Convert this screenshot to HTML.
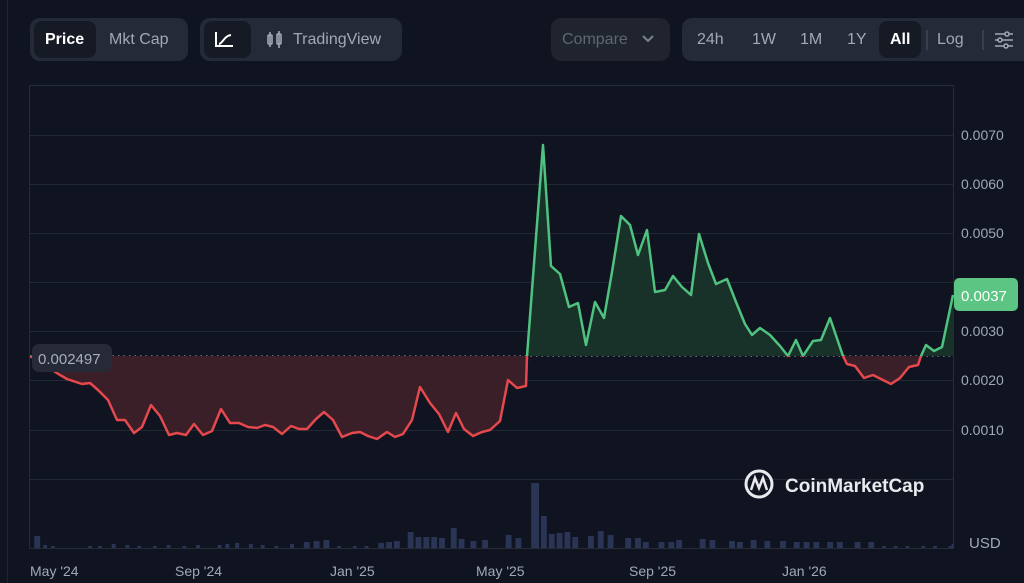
<!DOCTYPE html>
<html><head><style>
body{margin:0;width:1024px;height:583px;background:#0f1420;overflow:hidden;font-family:"Liberation Sans",sans-serif;}
.g{position:absolute;background:#252a38;border-radius:10px;height:43px;top:18px;}
.b{position:absolute;top:0;height:43px;line-height:43px;font-size:16px;color:#a3a8b6;}
.act{position:absolute;top:3px;height:37px;background:#161a25;border-radius:8px;}
</style></head><body>
<div style="position:absolute;left:7px;top:0;width:1px;height:583px;background:#1f2430"></div>
<div class="g" style="left:30px;width:158px"><div class="act" style="left:4px;width:62px"></div><div class="b" style="left:15px;color:#fff;font-weight:bold">Price</div><div class="b" style="left:79px">Mkt Cap</div></div>
<div class="g" style="left:200px;width:202px"><div class="act" style="left:4px;width:47px"></div>
<svg style="position:absolute;left:14px;top:12px" width="20" height="18"><path d="M2 2V16H19M5 14C9 13 10 6 17 5" stroke="#fff" stroke-width="2" fill="none"/></svg>
<svg style="position:absolute;left:66px;top:13px" width="18" height="18"><rect x="2" y="4" width="4" height="9" stroke="#a3a8b6" stroke-width="1.6" fill="none" rx="1"/><rect x="11" y="3" width="4" height="10" stroke="#a3a8b6" stroke-width="1.6" fill="none" rx="1"/><path d="M4 1V16M13 0V17" stroke="#a3a8b6" stroke-width="1.6"/></svg>
<div class="b" style="left:93px">TradingView</div></div>
<div class="g" style="left:551px;width:119px;background:#20242f"><div class="b" style="left:11px;color:#5f6574">Compare</div><svg style="position:absolute;left:90px;top:16px" width="14" height="10"><path d="M2 2L7 7L12 2" stroke="#7d8290" stroke-width="2" fill="none"/></svg></div>
<div class="g" style="left:682px;width:360px"><div class="act" style="left:197px;width:42px"></div>
<div class="b" style="left:15px">24h</div><div class="b" style="left:70px">1W</div><div class="b" style="left:118px">1M</div><div class="b" style="left:165px">1Y</div><div class="b" style="left:208px;color:#fff;font-weight:bold">All</div>
<div style="position:absolute;left:244px;top:12px;width:2px;height:20px;background:#3a3f4d"></div><div class="b" style="left:255px">Log</div>
<div style="position:absolute;left:300px;top:12px;width:2px;height:20px;background:#3a3f4d"></div>
<svg style="position:absolute;left:312px;top:12px" width="20" height="20"><path d="M1 4H19M1 10H19M1 16H19" stroke="#a3a8b6" stroke-width="1.5"/><circle cx="13" cy="4" r="2" fill="#252a38" stroke="#a3a8b6" stroke-width="1.5"/><circle cx="6" cy="10" r="2" fill="#252a38" stroke="#a3a8b6" stroke-width="1.5"/><circle cx="12" cy="16" r="2" fill="#252a38" stroke="#a3a8b6" stroke-width="1.5"/></svg></div>

<svg style="position:absolute;left:0;top:0" width="1024" height="583">
<defs>
<clipPath id="up"><rect x="0" y="0" width="1024" height="356"/></clipPath>
<clipPath id="dn"><rect x="0" y="356" width="1024" height="200"/></clipPath>
<polygon id="ar" points="30,356 60,375 67,379 82,384 90,383 98,390 108,400 117,420 125,420 134,433 142,427 151,405 160,416 169,435 177,433 186,435 194,424 203,435 212,431 221,409 230,423 239,423 248,427 257,428 265,425 273,427 282,434 291,426 299,429 307,429 316,419 324,412 333,420 342,437 352,433 360,432 368,436 377,439 387,432 395,437 403,434 412,420 420,387 430,403 439,414 448,432 456,413 464,429 473,436 482,432 490,430 500,421 508,380 517,388 526,386 527,356 543,145 551,266 560,274 569,307 578,303 586,345 595,302 604,318 612,272 621,216 630,225 638,255 647,230 655,292 665,290 673,276 682,287 691,295 699,234 708,263 716,284 727,279 736,302 745,324 752,335 760,328 770,335 780,346 788,356 796,340 803,356 813,341 821,340 830,318 843,356 847,364 855,366 864,378 873,375 883,380 891,384 900,378 909,367 918,365 921,356 926,345 934,351 942,347 953,295 953,356"/>
<polyline id="ln" fill="none" stroke-width="2.5" stroke-linejoin="round" points="30,356 60,375 67,379 82,384 90,383 98,390 108,400 117,420 125,420 134,433 142,427 151,405 160,416 169,435 177,433 186,435 194,424 203,435 212,431 221,409 230,423 239,423 248,427 257,428 265,425 273,427 282,434 291,426 299,429 307,429 316,419 324,412 333,420 342,437 352,433 360,432 368,436 377,439 387,432 395,437 403,434 412,420 420,387 430,403 439,414 448,432 456,413 464,429 473,436 482,432 490,430 500,421 508,380 517,388 526,386 527,356 543,145 551,266 560,274 569,307 578,303 586,345 595,302 604,318 612,272 621,216 630,225 638,255 647,230 655,292 665,290 673,276 682,287 691,295 699,234 708,263 716,284 727,279 736,302 745,324 752,335 760,328 770,335 780,346 788,356 796,340 803,356 813,341 821,340 830,318 843,356 847,364 855,366 864,378 873,375 883,380 891,384 900,378 909,367 918,365 921,356 926,345 934,351 942,347 953,295"/>
</defs>
<rect x="29.5" y="85.5" width="924" height="463" fill="none" stroke="#262b38"/>
<g stroke="#232835" stroke-width="1">
<line x1="30" x2="953" y1="135.5" y2="135.5"/><line x1="30" x2="953" y1="184.5" y2="184.5"/><line x1="30" x2="953" y1="233.5" y2="233.5"/><line x1="30" x2="953" y1="282.5" y2="282.5"/><line x1="30" x2="953" y1="331.5" y2="331.5"/><line x1="30" x2="953" y1="380.5" y2="380.5"/><line x1="30" x2="953" y1="430.5" y2="430.5"/><line x1="30" x2="953" y1="479.5" y2="479.5"/>
</g>
<g fill="#2a3455" transform="scale(1.96,1)">
<rect x="17.5" y="536" width="3" height="12"/><rect x="271" y="483" width="4" height="65"/><rect x="276" y="516" width="3" height="32"/><rect x="280" y="534" width="3" height="14"/><rect x="284" y="533" width="3" height="15"/><rect x="288" y="532" width="3" height="16"/><rect x="292" y="537" width="3" height="11"/><rect x="300" y="536" width="3" height="12"/><rect x="305" y="531" width="3" height="17"/><rect x="310" y="535" width="3" height="13"/>
<rect x="208" y="532" width="3" height="16"/><rect x="212" y="537" width="3" height="11"/><rect x="216" y="537" width="3" height="11"/><rect x="220" y="537" width="3" height="11"/><rect x="224" y="538" width="3" height="10"/><rect x="230" y="528" width="3" height="20"/><rect x="234" y="539" width="3" height="9"/><rect x="240" y="541" width="3" height="7"/><rect x="246" y="540" width="3" height="8"/><rect x="258" y="535" width="3" height="13"/><rect x="263" y="538" width="3" height="10"/>
<rect x="155" y="542" width="3" height="6"/><rect x="160" y="541" width="3" height="7"/><rect x="165" y="540" width="3" height="8"/><rect x="193" y="543" width="3" height="5"/><rect x="197" y="542" width="3" height="6"/><rect x="201" y="541" width="3" height="7"/>
<rect x="319" y="538" width="3" height="10"/><rect x="324" y="538" width="3" height="10"/><rect x="328" y="542" width="3" height="6"/><rect x="336" y="542" width="3" height="6"/><rect x="341" y="542" width="3" height="6"/><rect x="345" y="540" width="3" height="8"/><rect x="357" y="539" width="3" height="9"/><rect x="362" y="540" width="3" height="8"/><rect x="372" y="541" width="3" height="7"/><rect x="376" y="542" width="3" height="6"/><rect x="383" y="540" width="3" height="8"/><rect x="390" y="541" width="3" height="7"/><rect x="398" y="541" width="3" height="7"/><rect x="405" y="542" width="3" height="6"/><rect x="410" y="542" width="3" height="6"/><rect x="415" y="542" width="3" height="6"/><rect x="422" y="542" width="3" height="6"/><rect x="427" y="542" width="3" height="6"/><rect x="436" y="542" width="3" height="6"/><rect x="443" y="542" width="3" height="6"/>
<rect x="111" y="545" width="2" height="3"/><rect x="115" y="544" width="2" height="4"/><rect x="120" y="543" width="2" height="5"/><rect x="127" y="544" width="2" height="4"/><rect x="133" y="545" width="2" height="3"/><rect x="148" y="544" width="2" height="4"/><rect x="57" y="544" width="2" height="4"/><rect x="64" y="545" width="2" height="3"/><rect x="85" y="545" width="2" height="3"/><rect x="100" y="545" width="2" height="3"/>
<rect x="22" y="545" width="2" height="3"/><rect x="26" y="546" width="2" height="2"/><rect x="45" y="546" width="2" height="2"/><rect x="50" y="546" width="2" height="2"/><rect x="70" y="546" width="2" height="2"/><rect x="78" y="546" width="2" height="2"/><rect x="93" y="546" width="2" height="2"/><rect x="140" y="546" width="2" height="2"/><rect x="172" y="546" width="2" height="2"/><rect x="180" y="546" width="2" height="2"/><rect x="186" y="546" width="2" height="2"/>
<rect x="450" y="546" width="2" height="2"/><rect x="456" y="546" width="2" height="2"/><rect x="462" y="546" width="2" height="2"/><rect x="470" y="546" width="2" height="2"/><rect x="476" y="546" width="2" height="2"/><rect x="484" y="546" width="2" height="2"/><rect x="485.5" y="544" width="1" height="4"/>
</g>
<line x1="30" x2="953" y1="356" y2="356" stroke="#9aa0ad" stroke-width="1.2" stroke-dasharray="1.5 4"/>
<use href="#ar" fill="#183129" clip-path="url(#up)"/>
<use href="#ar" fill="#3a1f28" clip-path="url(#dn)"/>
<use href="#ln" stroke="#4fc27f" clip-path="url(#up)"/>
<use href="#ln" stroke="#e5484d" clip-path="url(#dn)"/>
<rect x="32" y="344" width="80" height="28" rx="7" fill="#262a36"/>
<text x="38" y="364" font-size="15" fill="#a8adba" font-family="Liberation Sans">0.002497</text>
<g font-size="14" fill="#a3a8b6" font-family="Liberation Sans">
<text x="961" y="140">0.0070</text><text x="961" y="189">0.0060</text><text x="961" y="238">0.0050</text><text x="961" y="336">0.0030</text><text x="961" y="385">0.0020</text><text x="961" y="435">0.0010</text>
<text x="969" y="548" font-size="15">USD</text>
<text x="30" y="576">May '24</text><text x="175" y="576">Sep '24</text><text x="330" y="576">Jan '25</text><text x="476" y="576">May '25</text><text x="629" y="576">Sep '25</text><text x="782" y="576">Jan '26</text>
</g>
<rect x="954" y="278" width="64" height="33" rx="5" fill="#5cc583"/>
<text x="961" y="301" font-size="15" fill="#fff" font-family="Liberation Sans">0.0037</text>
<circle cx="759" cy="484" r="13" fill="none" stroke="#e9eaee" stroke-width="3"/>
<path d="M751 490L755 478L759 488L763 478L767 490" fill="none" stroke="#e9eaee" stroke-width="2.5"/>
<text x="785" y="492" font-size="19" font-weight="bold" fill="#e9eaee" font-family="Liberation Sans">CoinMarketCap</text>
</svg>
</body></html>
